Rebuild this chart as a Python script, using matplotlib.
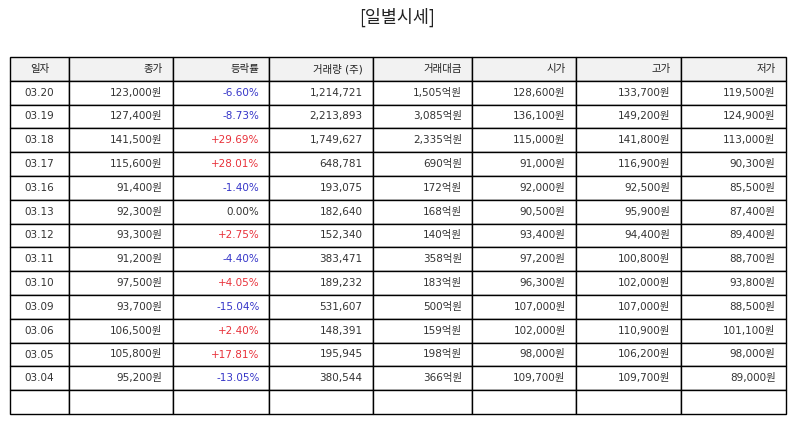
import matplotlib
matplotlib.use("Agg")
import matplotlib.pyplot as plt

plt.rcParams['font.family'] = ['DejaVu Sans', 'Noto Sans CJK KR']

title = "[일별시세]"
headers = ["일자", "종가", "등락률", "거래량 (주)", "거래대금", "시가", "고가", "저가"]
dates = ["03.20", "03.19", "03.18", "03.17", "03.16", "03.13", "03.12", "03.11",
         "03.10", "03.09", "03.06", "03.05", "03.04"]
close = ["123,000원", "127,400원", "141,500원", "115,600원", "91,400원", "92,300원",
         "93,300원", "91,200원", "97,500원", "93,700원", "106,500원", "105,800원", "95,200원"]
change = ["-6.60%", "-8.73%", "+29.69%", "+28.01%", "-1.40%", "0.00%", "+2.75%",
          "-4.40%", "+4.05%", "-15.04%", "+2.40%", "+17.81%", "-13.05%"]
volume = ["1,214,721", "2,213,893", "1,749,627", "648,781", "193,075", "182,640",
          "152,340", "383,471", "189,232", "531,607", "148,391", "195,945", "380,544"]
amount = ["1,505억원", "3,085억원", "2,335억원", "690억원", "172억원", "168억원",
          "140억원", "358억원", "183억원", "500억원", "159억원", "198억원", "366억원"]
open_ = ["128,600원", "136,100원", "115,000원", "91,000원", "92,000원", "90,500원",
         "93,400원", "97,200원", "96,300원", "107,000원", "102,000원", "98,000원", "109,700원"]
high = ["133,700원", "149,200원", "141,800원", "116,900원", "92,500원", "95,900원",
        "94,400원", "100,800원", "102,000원", "107,000원", "110,900원", "106,200원", "109,700원"]
low = ["119,500원", "124,900원", "113,000원", "90,300원", "85,500원", "87,400원",
       "89,400원", "88,700원", "93,800원", "88,500원", "101,100원", "98,000원", "89,000원"]

W, H = 794, 425
fig = plt.figure(figsize=(W / 100, H / 100), dpi=100)
ax = fig.add_axes([0, 0, 1, 1])
ax.axis('off')

fig.text(397 / W, 1 - 17 / H, title, ha='center', va='center', fontsize=12.5,
         color='#222222', family=['Noto Sans CJK KR', 'DejaVu Sans'])

rows = [list(r) for r in zip(dates, close, change, volume, amount, open_, high, low)]
rows.append([""] * len(headers))

col_px = [59, 104, 96, 104, 99, 104, 105, 105]
tot = sum(col_px)
col_w = [c / tot for c in col_px]

x0, y_top, y_bot = 10, 57, 414
tbl = ax.table(cellText=rows, colLabels=headers, colWidths=col_w,
               bbox=[x0 / W, 1 - y_bot / H, tot / W, (y_bot - y_top) / H],
               cellLoc='right')
tbl.auto_set_font_size(False)

red = '#e8313a'
blue = '#3535c8'
text_col = '#333333'
for (r, c), cell in tbl.get_celld().items():
    cell.set_linewidth(1.0)
    cell.set_edgecolor('#000000')
    t = cell.get_text()
    t.set_fontsize(7.5)
    t.set_color(text_col)
    if c == 0:
        cell._loc = 'center'
        t.set_horizontalalignment('center')
    else:
        cell._loc = 'right'
        t.set_horizontalalignment('right')
    if r == 0:
        cell.set_facecolor('#f2f2f2')
        t.set_color('#222222')
    else:
        cell.set_facecolor('white')
        if c == 2:
            s = t.get_text()
            if s.startswith('+'):
                t.set_color(red)
            elif s.startswith('-'):
                t.set_color(blue)

fig.savefig("out.png", dpi=100)
